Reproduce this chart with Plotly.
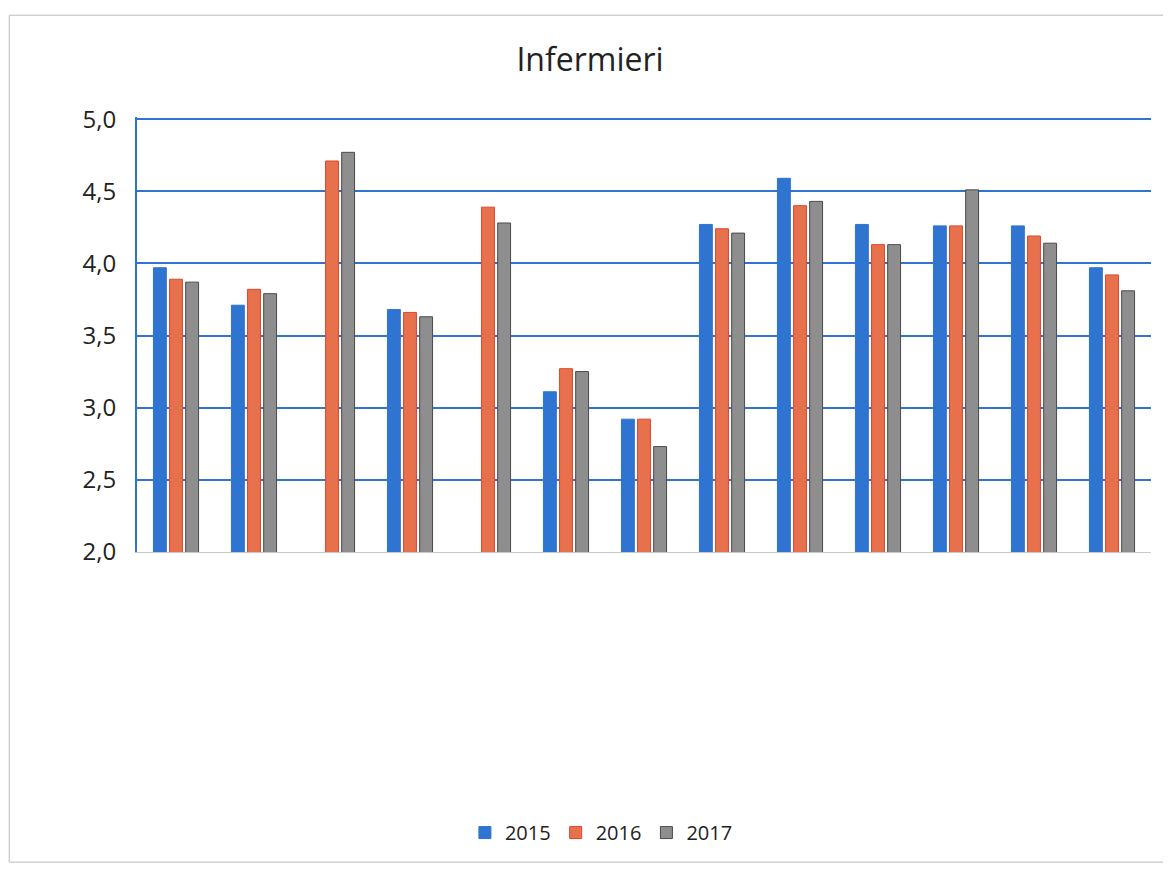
import plotly.graph_objects as go

categories = [f"c{i}" for i in range(1, 14)]
tick_labels = [" "] * 13
years = ["2015", "2016", "2017"]
v2015 = [3.97, 3.71, None, 3.68, None, 3.11, 2.92, 4.27, 4.59, 4.27, 4.26, 4.26, 3.97]
v2016 = [3.89, 3.82, 4.71, 3.66, 4.39, 3.27, 2.92, 4.24, 4.40, 4.13, 4.26, 4.19, 3.92]
v2017 = [3.87, 3.79, 4.77, 3.63, 4.28, 3.25, 2.73, 4.21, 4.43, 4.13, 4.51, 4.14, 3.81]
y_ticks = [2.0, 2.5, 3.0, 3.5, 4.0, 4.5, 5.0]
y_tick_text = ["2,0", "2,5", "3,0", "3,5", "4,0", "4,5", "5,0"]

colors = ["#2F74D0", "#E8714D", "#8E8E8E"]
edges = ["#2F74D0", "#E2452A", "#4A4A4A"]

fig = go.Figure()
for name, vals, c, e in zip(years, [v2015, v2016, v2017], colors, edges):
    fig.add_trace(go.Bar(
        x=categories, y=vals, name=name,
        marker=dict(color=c, line=dict(color=e, width=1)),
    ))

fig.update_layout(
    width=1171, height=869,
    paper_bgcolor="white", plot_bgcolor="white",
    font=dict(family="Open Sans, DejaVu Sans, sans-serif", color="#222222"),
    title=dict(text="Infermieri", x=0.497, xanchor="center", y=0.940, yanchor="middle",
               font=dict(size=32, color="#222222")),
    barmode="group", bargap=0.38, bargroupgap=0.2,
    margin=dict(l=129, r=28, t=109, b=325, autoexpand=False),
    legend=dict(orientation="h", x=0.458, xanchor="center", y=-0.645, yanchor="middle",
                font=dict(size=20, color="#222222"), itemwidth=30),
    xaxis=dict(tickmode="array", tickvals=categories, ticktext=tick_labels,
               showline=True, linecolor="#C8C8C8", linewidth=1, showgrid=False,
               ticks="", automargin=False),
    yaxis=dict(range=[1.999, 5.015], tickmode="array", tickvals=y_ticks, ticktext=y_tick_text,
               showgrid=True, gridcolor="#2F74D0", gridwidth=2,
               showline=True, linecolor="#2F74D0", linewidth=2,
               zeroline=False, tickfont=dict(size=24, color="#222222"), ticks="",
               ticklabelstandoff=14, automargin=False),
    shapes=[dict(type="rect", xref="paper", yref="paper", x0=-0.126, x1=1.017, y0=-0.713, y1=1.234,
                 line=dict(color="#BBBBBB", width=1), layer="below")],
)

fig.write_html("out.html")
